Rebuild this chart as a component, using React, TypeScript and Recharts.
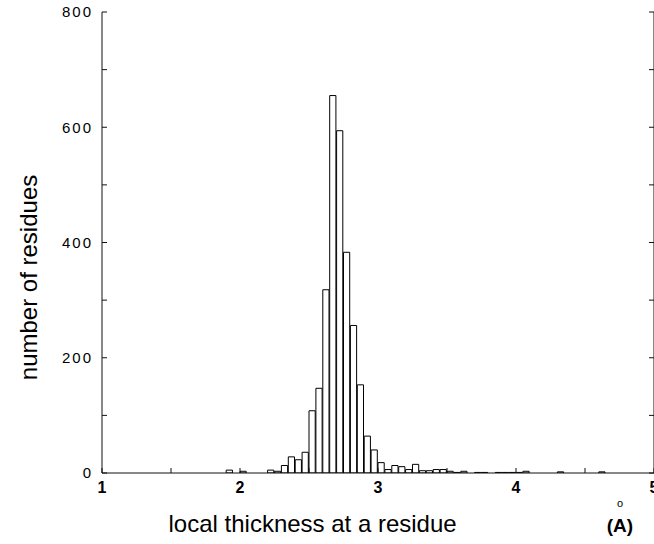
import React from 'react';
import { ComposedChart, Bar, XAxis, YAxis, Label } from 'recharts';

// histogram bins (bin centres, width 0.05 Å) and counts
const binCenters = [
  1.925, 2.025, 2.225, 2.275, 2.325, 2.375, 2.425, 2.475, 2.525, 2.575,
  2.625, 2.675, 2.725, 2.775, 2.825, 2.875, 2.925, 2.975, 3.025, 3.075,
  3.125, 3.175, 3.225, 3.275, 3.325, 3.375, 3.425, 3.475, 3.525, 3.575,
  3.625, 3.725, 3.775, 3.875, 3.925, 3.975, 4.025, 4.075, 4.325, 4.625,
];
const counts = [
  5, 3, 5, 3, 13, 28, 23, 36, 108, 147,
  318, 655, 594, 383, 256, 153, 64, 40, 18, 6,
  13, 11, 6, 15, 4, 4, 6, 6, 3, 1,
  3, 1, 1, 1, 1, 1, 1, 3, 2, 2,
];
const binWidth = 0.05;

const xTicks = [1, 1.5, 2, 2.5, 3, 3.5, 4, 4.5, 5];
const xTickLabels = ['1', '', '2', '', '3', '', '4', '', '5'];
const yTicks = [0, 100, 200, 300, 400, 500, 600, 700, 800];
const yTickLabels = ['0', '', '200', '', '400', '', '600', '', '800'];

const xLabel = 'local thickness at a residue';
const yLabel = 'number of residues';
const unitLabel = '(A)';

const data = binCenters.map((x, i) => ({ x, count: counts[i] }));

const W = 670;
const H = 544;
const yAxisW = 102;
const rightW = 16;
const xAxisH = 71;
const plotW = W - yAxisW - rightW;
const barPx = (plotW / (xTicks[xTicks.length - 1] - xTicks[0])) * binWidth;

const FONT = '"Liberation Sans", Arial, Helvetica, sans-serif';
const AX = '#111';
const TL = 5;

const BottomTick = (props: any) => {
  const { x, y, payload } = props;
  const lab = xTickLabels[xTicks.indexOf(payload.value)];
  return (
    <g>
      <line x1={x} y1={y} x2={x} y2={y - TL} stroke={AX} strokeWidth={1} />
      {lab ? (
        <text x={x} y={y + 20} textAnchor="middle" fontSize={16} fontWeight="bold" fontFamily={FONT} fill="#000">
          {lab}
        </text>
      ) : null}
    </g>
  );
};

const TopTick = (props: any) => {
  const { x, y } = props;
  return <line x1={x} y1={y} x2={x} y2={y + TL} stroke={AX} strokeWidth={1} />;
};

const LeftTick = (props: any) => {
  const { x, y, payload } = props;
  const lab = yTickLabels[yTicks.indexOf(payload.value)];
  return (
    <g>
      <line x1={x} y1={y} x2={x + TL} y2={y} stroke={AX} strokeWidth={1} />
      {lab ? (
        <text x={x - 9} y={y} dy="0.36em" textAnchor="end" fontSize={15} letterSpacing={2} fontFamily={FONT} fill="#000">
          {lab}
        </text>
      ) : null}
    </g>
  );
};

const RightTick = (props: any) => {
  const { x, y } = props;
  return <line x1={x} y1={y} x2={x - TL} y2={y} stroke={AX} strokeWidth={1} />;
};

const XLabelContent = () => (
  <g>
    <text x={168.5} y={532} fontSize={24} fontFamily={FONT} fill="#000">
      {xLabel}
    </text>
    <text x={620} y={506.5} textAnchor="middle" fontSize={11} fontFamily={FONT} fill="#000">
      o
    </text>
    <text x={620} y={532} textAnchor="middle" fontSize={19} fontWeight="bold" fontFamily={FONT} fill="#000">
      {unitLabel}
    </text>
  </g>
);

const YLabelContent = () => (
  <text
    x={36.7}
    y={277.5}
    textAnchor="middle"
    transform="rotate(-90, 36.7, 277.5)"
    fontSize={24}
    fontFamily={FONT}
    fill="#000"
  >
    {yLabel}
  </text>
);

export default function App() {
  return (
    <div style={{ position: 'absolute', left: 0, top: 0, width: 654, height: 544, overflow: 'hidden', background: '#fff' }}>
      <ComposedChart
        width={W}
        height={H}
        data={data}
        margin={{ top: 12, right: 0, bottom: 0, left: 0 }}
        barCategoryGap={0}
        barGap={0}
      >
        <XAxis
          dataKey="x"
          type="number"
          domain={[1, 5]}
          ticks={xTicks}
          interval={0}
          allowDataOverflow
          height={xAxisH}
          tickSize={0}
          tickMargin={0}
          tickLine={false}
          axisLine={{ stroke: AX, strokeWidth: 1 }}
          tick={BottomTick}
        >
          <Label content={XLabelContent} />
        </XAxis>
        <XAxis
          xAxisId="top"
          dataKey="x"
          type="number"
          orientation="top"
          domain={[1, 5]}
          ticks={xTicks}
          interval={0}
          allowDataOverflow
          height={0}
          tickSize={0}
          tickMargin={0}
          tickLine={false}
          axisLine={{ stroke: AX, strokeWidth: 1 }}
          tick={TopTick}
        />
        <YAxis
          type="number"
          domain={[0, 800]}
          ticks={yTicks}
          interval={0}
          allowDataOverflow
          width={yAxisW}
          tickSize={0}
          tickMargin={0}
          tickLine={false}
          axisLine={{ stroke: AX, strokeWidth: 1 }}
          tick={LeftTick}
        >
          <Label content={YLabelContent} />
        </YAxis>
        <YAxis
          yAxisId="right"
          orientation="right"
          type="number"
          domain={[0, 800]}
          ticks={yTicks}
          interval={0}
          allowDataOverflow
          width={rightW}
          tickSize={0}
          tickMargin={0}
          tickLine={false}
          axisLine={{ stroke: AX, strokeWidth: 1 }}
          tick={RightTick}
        />
        <Bar
          dataKey="count"
          fill="#fff"
          stroke="#000"
          strokeWidth={1}
          barSize={barPx}
          isAnimationActive={false}
        />
      </ComposedChart>
    </div>
  );
}
